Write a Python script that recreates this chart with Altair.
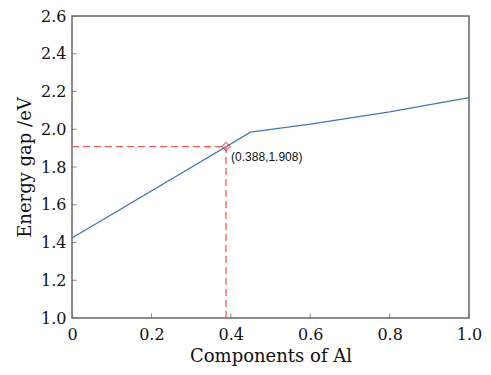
import altair as alt
import pandas as pd

# data
line_x = [0.0, 0.45, 0.6, 0.8, 1.0]
line_y = [1.424, 1.985, 2.027, 2.092, 2.168]
point_x = [0.388]
point_y = [1.908]
point_label = ["(0.388,1.908)"]
x_ticks = [0.0, 0.2, 0.4, 0.6, 0.8, 1.0]
y_ticks = [1.0, 1.2, 1.4, 1.6, 1.8, 2.0, 2.2, 2.4, 2.6]

W, H = 397, 302
SERIF = "DejaVu Serif"

xs = alt.Scale(domain=[0, 1.0], nice=False)
ys = alt.Scale(domain=[1.0, 2.6], nice=False)

line_df = pd.DataFrame({"x": line_x, "y": line_y})
pt_df = pd.DataFrame({"x": point_x, "y": point_y, "label": point_label})
hseg = pd.DataFrame({"x": [0.0], "x2": point_x, "y": point_y})
vseg = pd.DataFrame({"x": point_x, "y": [1.0], "y2": point_y})
xt_df = pd.DataFrame({"x": x_ticks})
yt_df = pd.DataFrame({"y": y_ticks})

xaxis = alt.Axis(values=x_ticks, title="Components of Al",
                 labelExpr="datum.value == 0 ? '0' : format(datum.value, '.1f')",
                 ticks=False, domain=False, grid=False, labelPadding=8,
                 labelOverlap=False, labelFlush=False, labelBound=False,
                 labelFont=SERIF, labelFontSize=16, labelColor="#111",
                 titleFont=SERIF, titleFontSize=18, titleFontWeight="normal",
                 titleColor="#111", titlePadding=5)
yaxis = alt.Axis(values=y_ticks, title="Energy gap /eV", format=".1f",
                 ticks=False, domain=False, grid=False, labelPadding=6,
                 labelOverlap=False, labelFlush=False, labelBound=False,
                 labelFont=SERIF, labelFontSize=16, labelColor="#111",
                 titleFont=SERIF, titleFontSize=18, titleFontWeight="normal",
                 titleColor="#111", titlePadding=6)

X = alt.X("x:Q", scale=xs, axis=xaxis, title="Components of Al")
Y = alt.Y("y:Q", scale=ys, axis=yaxis, title="Energy gap /eV")

line = alt.Chart(line_df).mark_line(color="#3a78c6", strokeWidth=1.3).encode(x=X, y=Y)

dash_color = "#f0604a"
h = alt.Chart(hseg).mark_rule(color=dash_color, strokeDash=[7, 4], strokeWidth=1.3).encode(
    x=X, x2="x2:Q", y=Y)
v = alt.Chart(vseg).mark_rule(color=dash_color, strokeDash=[7, 4], strokeWidth=1.3).encode(
    x=X, y=Y, y2="y2:Q")

pt = alt.Chart(pt_df).mark_point(shape="diamond", filled=False, color="#e0383a",
                                  size=70, strokeWidth=1.2).encode(x=X, y=Y)
txt = alt.Chart(pt_df).mark_text(align="left", baseline="middle", dx=5, dy=10,
                                 font="Liberation Sans", fontSize=12, color="#111").encode(
    x=X, y=Y, text="label:N")

xt = alt.Chart(xt_df).mark_tick(orient="vertical", size=9, thickness=1,
                                color="#555", clip=True).encode(x=X, y=alt.value(H))
yt = alt.Chart(yt_df).mark_tick(orient="horizontal", size=9, thickness=1,
                                color="#555", clip=True).encode(y=Y, x=alt.value(0))

chart = alt.layer(line, h, v, pt, txt, xt, yt).properties(
    width=W, height=H,
    autosize=alt.AutoSizeParams(type="none"),
    padding={"left": 72, "top": 16, "right": 22, "bottom": 57},
    background="white",
).configure_view(stroke="#666", strokeWidth=1.5).configure_axis(labelOverlap=False)

chart.save("out.html", embed_options={"renderer": "svg", "actions": False})
